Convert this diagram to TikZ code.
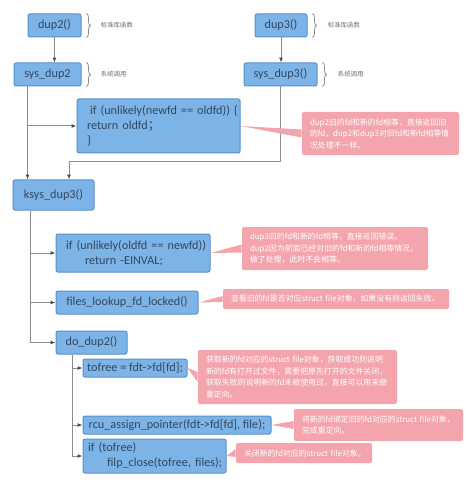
\documentclass[tikz,border=0pt]{standalone}
\usepackage{fontspec}
\setmainfont{Noto Sans CJK SC}
\newfontfamily\codefont{Carlito}
\newfontfamily\cjk{Noto Sans CJK SC}
\usetikzlibrary{arrows.meta, positioning, decorations.pathreplacing}
\definecolor{boxfill}{RGB}{124,180,232}
\definecolor{boxdraw}{RGB}{88,144,204}
\definecolor{boxtext}{RGB}{52,70,92}
\definecolor{notefill}{RGB}{243,164,172}
\definecolor{wirecol}{RGB}{140,140,140}
\definecolor{tagtext}{RGB}{110,110,110}

\begin{document}
\begin{tikzpicture}[
	x=0.5pt, y=-0.5pt,
	>={Latex[length=2.4pt,width=2pt,color=black!70]},
	% Styles
	codebox/.style={draw=boxdraw, fill=boxfill, line width=0.5pt, rounded corners=1pt, text=boxtext, font=\codefont\fontsize{6.1}{7.5}\selectfont, inner sep=0pt},
	multibox/.style={codebox, align=left, inner xsep=5pt},
	note/.style={fill=notefill, rounded corners=1pt, text=white, font=\fontsize{3.95}{5.75}\selectfont, align=left, inner xsep=4pt, inner ysep=0pt},
	tag/.style={text=tagtext, font=\fontsize{3.2}{4}\selectfont, inner sep=0pt},
	wire/.style={draw=wirecol, line width=0.5pt},
	bracket/.style={draw=wirecol, line width=0.4pt, decorate, decoration={brace, amplitude=2pt}}
	]
	\useasboundingbox (0,0) rectangle (474,486);
	
	% ==========================================
	% TOP: dup2 / dup3 entry points
	% ==========================================
	\node[codebox, minimum width=26.5pt, minimum height=11.5pt] (dup2) at (54.5,25.5) {dup2()};
	\node[codebox, minimum width=33.5pt, minimum height=11.5pt] (sysdup2) at (47.5,74.5) {sys\_dup2};
	\node[codebox, minimum width=26pt, minimum height=11.5pt] (dup3) at (281,25.5) {dup3()};
	\node[codebox, minimum width=36.5pt, minimum height=11.5pt] (sysdup3) at (280.5,74.5) {sys\_dup3()};
	
	% Braces and tags
	\draw[bracket] ([xshift=2.5pt]dup2.north east) -- ([xshift=2.5pt]dup2.south east);
	\node[tag, right=9.5pt of dup2] (tag1) {标准库函数};
	\draw[bracket] ([xshift=2.5pt]sysdup2.north east) -- ([xshift=2.5pt]sysdup2.south east);
	\node[tag, right=9.5pt of sysdup2] (tag2) {系统调用};
	\draw[bracket] ([xshift=2.5pt]dup3.north east) -- ([xshift=2.5pt]dup3.south east);
	\node[tag, right=10pt of dup3] (tag3) {标准库函数};
	\draw[bracket] ([xshift=2.5pt]sysdup3.north east) -- ([xshift=2.5pt]sysdup3.south east);
	\node[tag, right=10pt of sysdup3] (tag4) {系统调用};
	
	% dup2 special case
	\node[multibox, text width=71.5pt, minimum height=27pt] (chk2) at (158.5,126) {\mbox{\hspace*{1.5pt}if (unlikely(newfd == oldfd)) \{}\\\mbox{return oldfd{\cjk ；}}\\\}};
	\node[note, text width=70.5pt, minimum height=21.5pt] (note1) at (380.5,133.5) {dup2旧的fd和新的fd相等，直接返回旧\\的fd，dup2和dup3对旧fd和新fd相等情\\况处理不一样。};
	
	% ==========================================
	% MIDDLE: ksys_dup3
	% ==========================================
	\node[codebox, minimum width=40.5pt, minimum height=15pt] (ksys) at (53.5,195) {ksys\_dup3()};
	
	\node[multibox, text width=67pt, minimum height=19pt] (chk3) at (133,253) {\mbox{if (unlikely(oldfd == newfd))}\\\mbox{\hspace*{9.5pt}return -EINVAL;}};
	\node[note, text width=85pt, minimum height=21.5pt] (note2) at (335,248.5) {dup3旧的fd和新的fd相等，直接返回错误。\\dup2因为前面已经对旧的fd和新的fd相等情况，\\做了处理，此时不会相等。};
	
	\node[codebox, minimum width=71pt, minimum height=11.5pt] (lookup) at (127,302.5) {files\_lookup\_fd\_locked()};
	\node[note, text width=105pt, minimum height=10pt] (note3) at (336,299) {查看旧的fd是否对应struct~file对象，如果没有则返回失败。};
	
	% ==========================================
	% BOTTOM: do_dup2
	% ==========================================
	\node[codebox, minimum width=35.5pt, minimum height=11.5pt] (dodup) at (91.5,342.5) {do\_dup2()};
	
	\node[codebox, minimum width=52pt, minimum height=9pt] (tofree) at (135,368) {tofree = fdt->fd[fd];};
	\node[note, text width=91.5pt, minimum height=27pt] (note4) at (297.5,377) {获取新的fd对应的struct~file对象，获取成功则说明\\新的fd有打开过文件，需要把原先打开的文件关闭，\\获取失败则说明新的fd未被使用过，直接可以用来做\\重定向。};
	
	\node[codebox, minimum width=94pt, minimum height=9pt] (rcu) at (177,425) {rcu\_assign\_pointer(fdt->fd[fd], file);};
	\node[note, text width=76.5pt, minimum height=16pt] (note5) at (378.5,425) {将新的fd绑定旧的fd对应的struct~file对象，\\完成重定向。};
	
	\node[multibox, inner xsep=2.5pt, text width=66.5pt, minimum height=17pt] (close) at (154.5,456) {\mbox{if (tofree)}\\\mbox{\hspace*{9.5pt}filp\_close(tofree, files);}};
	\node[note, text width=60pt, minimum height=10pt] (note6) at (304,453) {关闭新的fd对应的struct~file对象。};
	
	% ==========================================
	% Connectors
	% ==========================================
	\draw[wire, ->] (dup2.south) -- (dup2.south |- sysdup2.north);
	\draw[wire, ->] (dup3.south) -- (dup3.south |- sysdup3.north);
	
	\coordinate (s2) at ([xshift=7pt]sysdup2.south west);
	\draw[wire, ->] (s2) -- (s2 |- ksys.north);
	\draw[wire, ->] (s2 |- chk2.west) -- (chk2.west);
	
	\coordinate (join) at (69,162);
	\draw[wire, ->] (sysdup3.south) |- (join) -- (join |- ksys.north);
	
	\coordinate (k) at ([xshift=9pt]ksys.south west);
	\draw[wire, ->] (k) |- (dodup.west);
	\draw[wire, ->] (k |- chk3.west) -- (chk3.west);
	\draw[wire, ->] (k |- lookup.west) -- (lookup.west);
	
	\coordinate (d) at ([xshift=8.5pt]dodup.south west);
	\draw[wire, ->] (d) |- (close.west);
	\draw[wire, ->] (d |- tofree.west) -- (tofree.west);
	\draw[wire, ->] (d |- rcu.west) -- (rcu.west);
	
	% Callout tails
	\fill[notefill] (chk2.east) -- ([yshift=2pt]note1.west) -- ([yshift=-2pt]note1.west) -- cycle;
	\fill[notefill] (chk3.east) -- ([yshift=2pt]note2.west) -- ([yshift=-2pt]note2.west) -- cycle;
	\fill[notefill] (lookup.east) -- ([yshift=1.5pt]note3.west) -- ([yshift=-1.5pt]note3.west) -- cycle;
	\fill[notefill] (tofree.east) -- ([yshift=2.5pt]note4.west) -- ([yshift=-2.5pt]note4.west) -- cycle;
	\fill[notefill] (rcu.east) -- ([yshift=2pt]note5.west) -- ([yshift=-2pt]note5.west) -- cycle;
	\fill[notefill] (close.east) -- ([yshift=2pt]note6.west) -- ([yshift=-2pt]note6.west) -- cycle;
	
\end{tikzpicture}
\end{document}
